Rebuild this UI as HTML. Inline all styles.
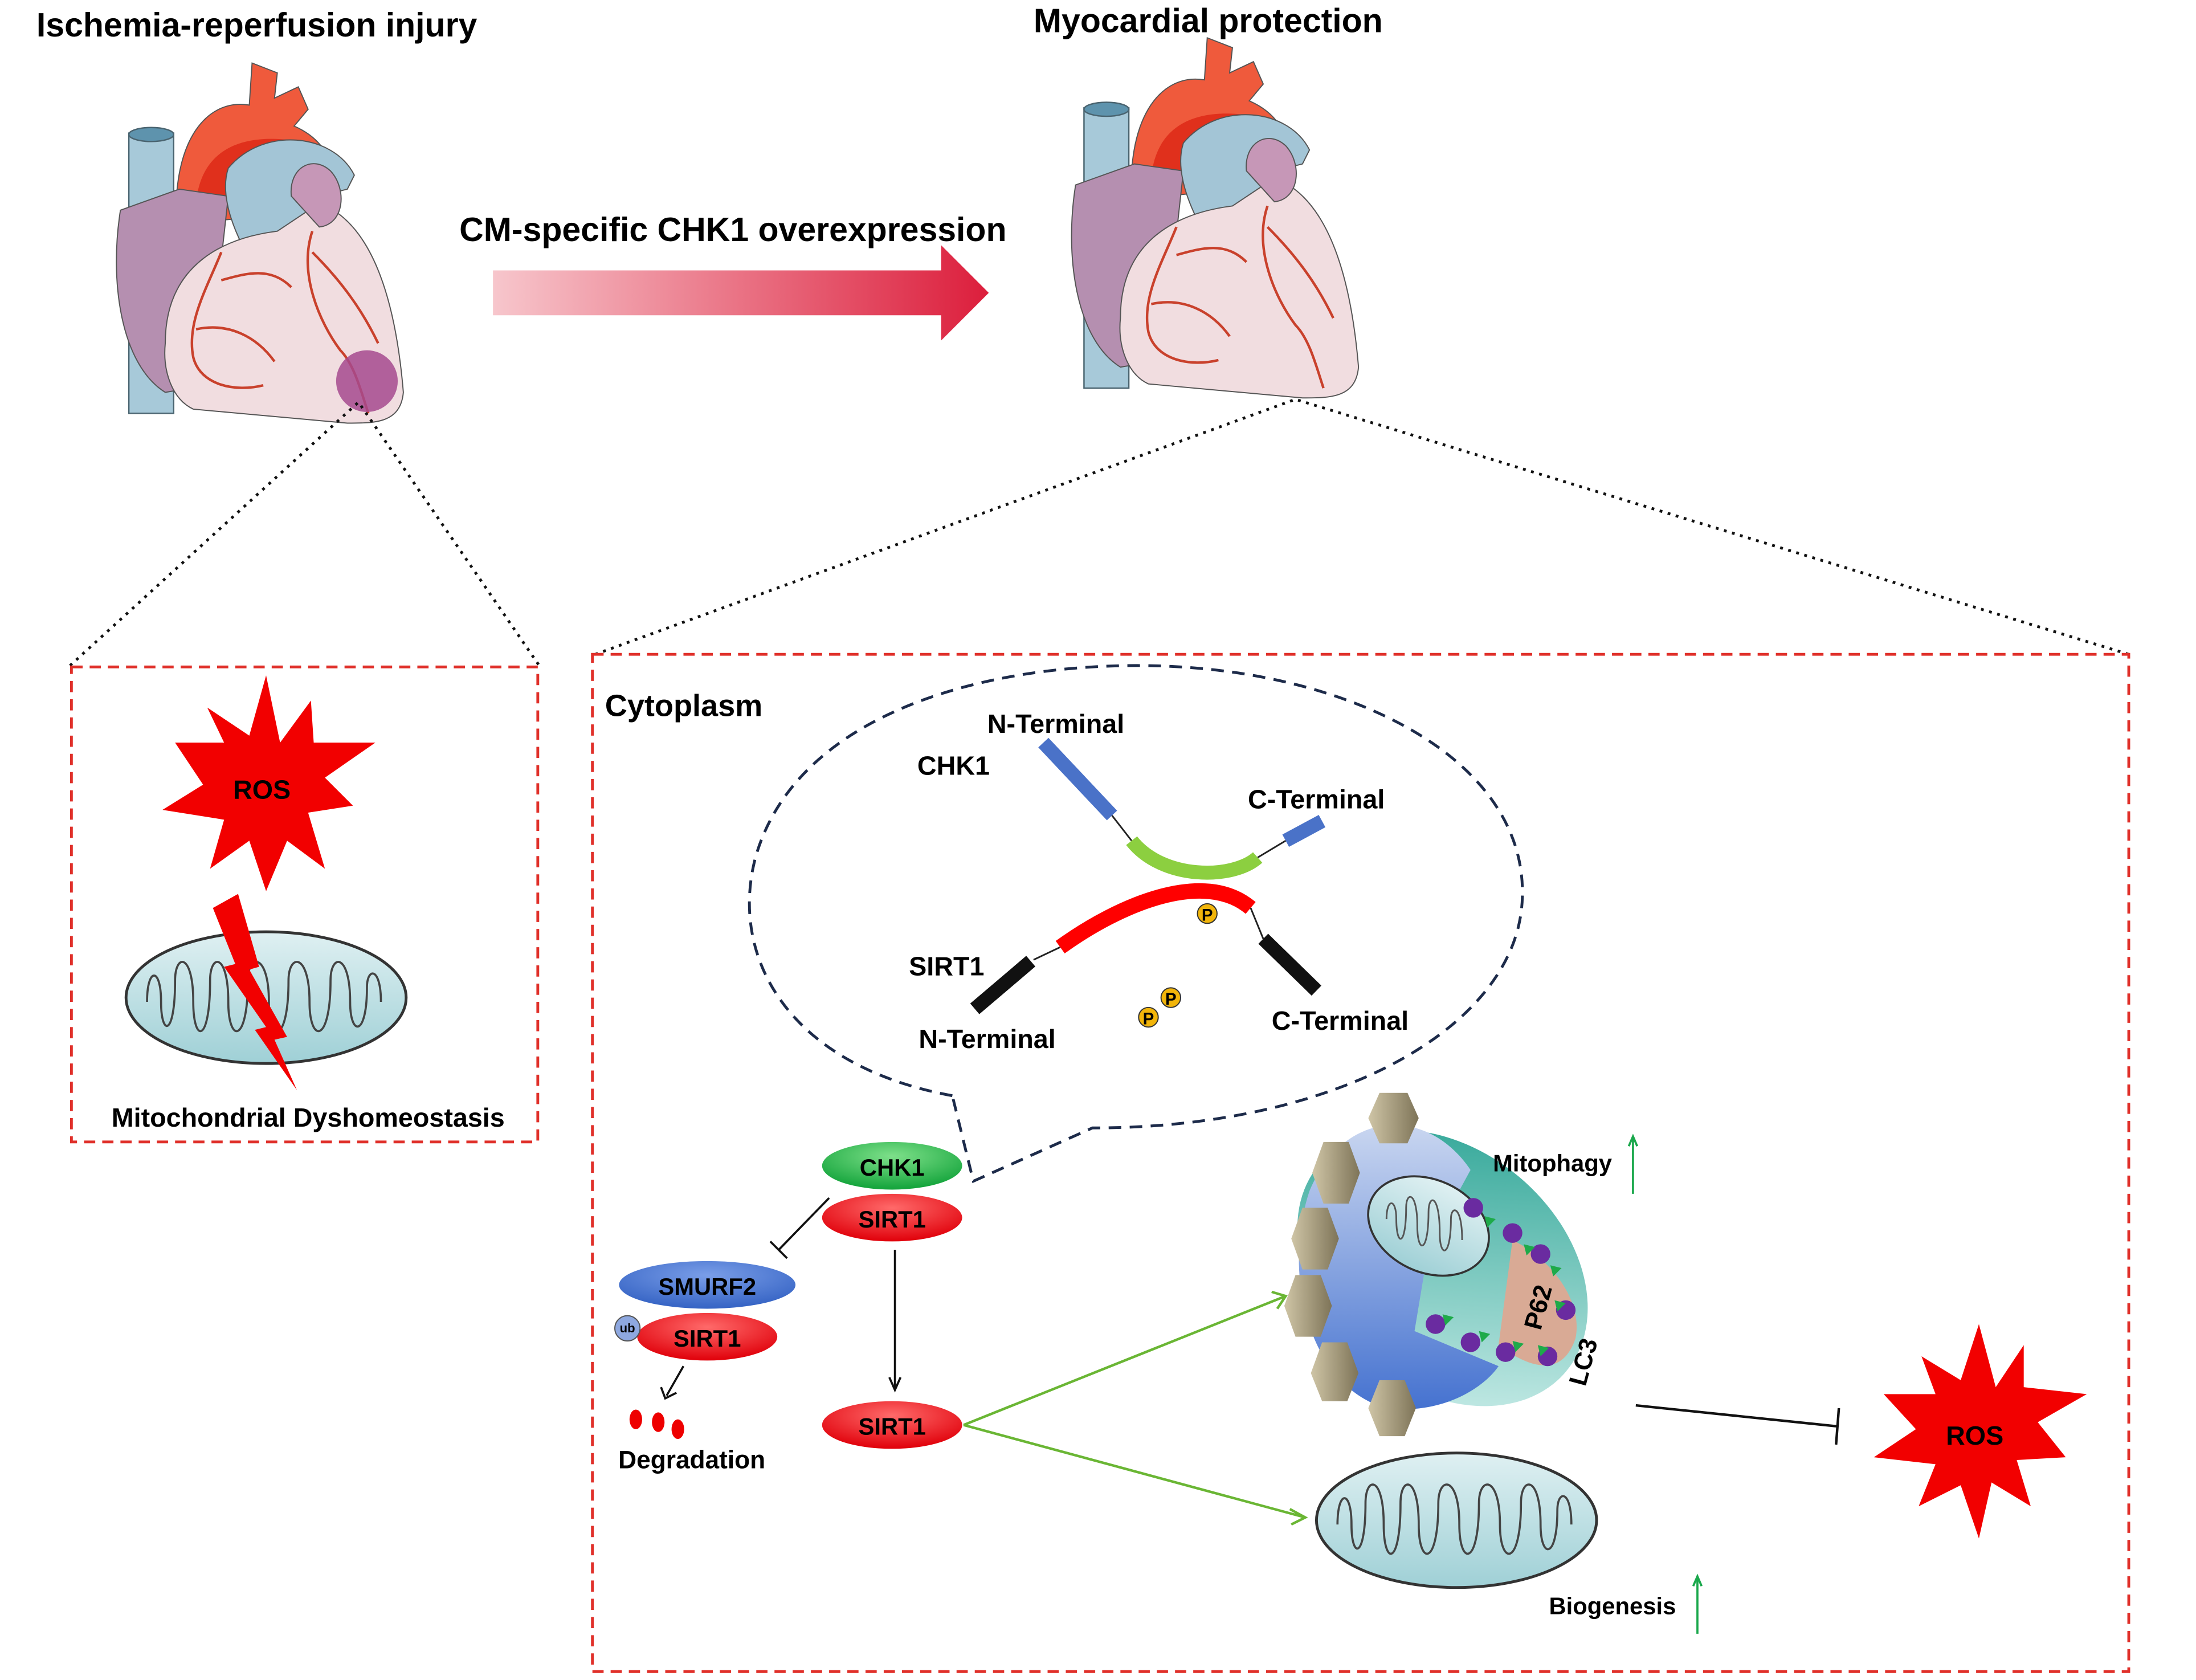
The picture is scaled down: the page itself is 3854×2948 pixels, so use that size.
<!DOCTYPE html>
<html><head><meta charset="utf-8"><style>
html,body{margin:0;padding:0;background:#fff;}
svg{display:block;}
text{font-family:"Liberation Sans",Arial,sans-serif;font-weight:bold;}
</style></head><body>
<svg width="3854" height="2948" viewBox="0 0 1568 1199" preserveAspectRatio="none" xmlns="http://www.w3.org/2000/svg">
<defs>
<linearGradient id="arr" x1="0" x2="1" y1="0" y2="0"><stop offset="0" stop-color="#f7c6cc"/><stop offset="1" stop-color="#dc1e3c"/></linearGradient>
<linearGradient id="mito" x1="0" x2="0" y1="0" y2="1"><stop offset="0" stop-color="#dff0f2"/><stop offset="1" stop-color="#9fd0d6"/></linearGradient>
<linearGradient id="blob" x1="0" x2="0" y1="0" y2="1"><stop offset="0" stop-color="#c9d6f0"/><stop offset="1" stop-color="#4572d0"/></linearGradient>
<linearGradient id="teal" x1="0" x2="1" y1="0" y2="1"><stop offset="0" stop-color="#1f9e8e"/><stop offset="1" stop-color="#d8f3f0"/></linearGradient>
<linearGradient id="hex" x1="0" x2="1"><stop offset="0" stop-color="#cfc5a6"/><stop offset="1" stop-color="#7e7458"/></linearGradient>
<radialGradient id="gr" cx=".5" cy=".3" r=".7"><stop offset="0" stop-color="#7ee08a"/><stop offset="1" stop-color="#12a33a"/></radialGradient>
<radialGradient id="rd" cx=".5" cy=".3" r=".7"><stop offset="0" stop-color="#ff6a6a"/><stop offset="1" stop-color="#e0000a"/></radialGradient>
<radialGradient id="bl" cx=".5" cy=".3" r=".7"><stop offset="0" stop-color="#7a9ee8"/><stop offset="1" stop-color="#3563c4"/></radialGradient>
<g id="heart">
 <rect x="14" y="55" width="32" height="200" fill="#a7c9d9" stroke="#4a6470" stroke-width="1"/>
 <ellipse cx="30" cy="56" rx="16" ry="5" fill="#5e93ad" stroke="#4a6470"/>
 <path d="M48 120 C45 60 70 30 100 35 L102 5 L120 12 L118 30 L135 22 L142 38 L132 50 C155 60 165 80 160 110 Z" fill="#ef5a3c" stroke="#555" stroke-width=".8"/>
 <path d="M62 105 C65 70 90 55 130 60 L140 80 C110 75 90 85 80 110 Z" fill="#e0301c"/>
 <path d="M8 110 C0 160 8 220 40 240 L70 235 L85 100 L50 95 Z" fill="#b58fb0" stroke="#555" stroke-width=".8"/>
 <path d="M85 80 C110 50 160 55 175 85 L170 95 L150 100 L150 130 L95 135 C85 115 80 95 85 80 Z" fill="#a3c5d6" stroke="#555" stroke-width=".8"/>
 <path d="M40 205 C40 150 80 130 120 125 L150 105 C190 120 205 180 210 240 C208 262 190 262 170 262 L60 252 C45 245 38 225 40 205 Z" fill="#f1dde0" stroke="#555" stroke-width=".8"/>
 <path d="M130 100 C128 80 145 70 158 82 C170 95 168 120 150 122 Z" fill="#c697b7" stroke="#555" stroke-width=".8"/>
 <path d="M80 140 C70 165 55 190 60 215 C65 235 90 240 110 235 M145 125 C135 155 150 190 165 210 C175 220 180 240 185 255 M145 140 C165 160 180 180 192 205 M62 195 C85 190 105 200 118 218 M80 160 C98 155 115 150 130 165" fill="none" stroke="#c9412c" stroke-width="1.8"/>
</g>
</defs>
<rect width="1568" height="1199" fill="#fff"/>

<text x="26" y="26" font-size="24">Ischemia-reperfusion injury</text>
<text x="738" y="23" font-size="24">Myocardial protection</text>
<text x="328" y="172" font-size="24">CM-specific CHK1 overexpression</text>

<use href="#heart" x="78" y="40"/>
<ellipse cx="262" cy="272" rx="22" ry="22" fill="#a64a8e" opacity=".85"/>
<use href="#heart" x="760" y="22"/>

<path d="M352 193 L672 193 L672 175 L706 209 L672 243 L672 225 L352 225 Z" fill="url(#arr)"/>

<g stroke="#111" stroke-width="2" stroke-dasharray="2,4" fill="none">
<path d="M50 475 L256 287 L385 475"/>
<path d="M425 467 L925 285 L1520 467"/>
</g>

<rect x="51" y="476" width="333" height="339" fill="none" stroke="#e0302a" stroke-width="2" stroke-dasharray="8,5"/>
<polygon points="190,482 200,530 222,500 224,530 268,530 232,555 252,575 220,580 232,620 205,600 190,636 178,600 150,620 160,585 116,578 145,560 125,530 160,530 148,505 178,525" fill="#f20000"/>
<text x="187" y="570" font-size="19" text-anchor="middle">ROS</text>
<ellipse cx="190" cy="712" rx="100" ry="47" fill="url(#mito)" stroke="#333" stroke-width="2"/>
<path d="M105 715 C105 690 115 690 115 715 C115 740 125 740 125 700 C125 680 138 680 138 715 C138 745 150 745 150 700 C150 680 163 680 163 715 C163 745 177 745 177 700 C177 680 192 680 192 715 C192 745 206 745 206 700 C206 680 221 680 221 715 C221 745 236 745 236 700 C236 680 250 680 250 715 C250 740 262 740 262 705 C262 690 272 690 272 715" fill="none" stroke="#444" stroke-width="1.5"/>
<polygon points="170,638 185,690 178,692 205,740 196,742 212,778 182,735 190,733 160,690 168,688 152,648" fill="#f20000"/>
<text x="220" y="804" font-size="19" text-anchor="middle">Mitochondrial Dyshomeostasis</text>

<rect x="423" y="467" width="1097" height="726" fill="none" stroke="#e0302a" stroke-width="2" stroke-dasharray="8,5"/>
<text x="432" y="511" font-size="22">Cytoplasm</text>

<path d="M680 782 C560 760 520 680 540 610 C570 510 700 475 812 475 C960 475 1090 540 1087 640 C1085 730 960 805 780 805 L695 843 L680 782" fill="none" stroke="#1d2b4a" stroke-width="2" stroke-dasharray="9,6"/>
<text x="705" y="523" font-size="19">N-Terminal</text>
<text x="655" y="553" font-size="19">CHK1</text>
<text x="891" y="577" font-size="19">C-Terminal</text>
<text x="649" y="696" font-size="19">SIRT1</text>
<text x="656" y="748" font-size="19">N-Terminal</text>
<text x="908" y="735" font-size="19">C-Terminal</text>
<line x1="745" y1="530" x2="794" y2="582" stroke="#4a72c8" stroke-width="10"/>
<path d="M794 582 L808 600 M898 612 L918 600" stroke="#222" stroke-width="1.2"/>
<line x1="918" y1="600" x2="944" y2="586" stroke="#4a72c8" stroke-width="10"/>
<path d="M808 600 C830 628 880 628 898 612" fill="none" stroke="#8ccf40" stroke-width="10"/>
<path d="M757 676 C800 645 860 620 893 648" fill="none" stroke="#f00" stroke-width="11"/>
<path d="M738 685 L757 676 M893 648 L902 670" stroke="#222" stroke-width="1.2"/>
<line x1="696" y1="720" x2="736" y2="686" stroke="#111" stroke-width="10"/>
<line x1="902" y1="670" x2="940" y2="707" stroke="#111" stroke-width="10"/>
<g font-size="12"><circle cx="862" cy="652" r="7" fill="#f2b50a" stroke="#333" stroke-width=".8"/><text x="858" y="657">P</text>
<circle cx="820" cy="726" r="7" fill="#f2b50a" stroke="#333" stroke-width=".8"/><text x="816" y="731">P</text>
<circle cx="836" cy="712" r="7" fill="#f2b50a" stroke="#333" stroke-width=".8"/><text x="832" y="717">P</text></g>

<ellipse cx="637" cy="832" rx="50" ry="17" fill="url(#gr)"/>
<text x="637" y="839" font-size="17" text-anchor="middle">CHK1</text>
<ellipse cx="637" cy="869" rx="50" ry="17" fill="url(#rd)"/>
<text x="637" y="876" font-size="17" text-anchor="middle">SIRT1</text>
<ellipse cx="505" cy="917" rx="63" ry="17" fill="url(#bl)"/>
<text x="505" y="924" font-size="17" text-anchor="middle">SMURF2</text>
<ellipse cx="505" cy="954" rx="50" ry="17" fill="url(#rd)"/>
<text x="505" y="961" font-size="17" text-anchor="middle">SIRT1</text>
<circle cx="448" cy="948" r="9" fill="#8ea8e0" stroke="#555" stroke-width=".8"/>
<text x="448" y="951" font-size="9" text-anchor="middle" font-family="Liberation Serif">ub</text>
<path d="M592 855 L556 892 M550 886 L562 898" stroke="#111" stroke-width="1.5"/>
<path d="M488 975 L476 996" stroke="#111" stroke-width="1.5"/><path d="M472 990 L475 998 L483 994" fill="none" stroke="#111" stroke-width="1.5"/>
<ellipse cx="454" cy="1013" rx="4.5" ry="7" fill="#e00"/><ellipse cx="470" cy="1015" rx="4.5" ry="7" fill="#e00"/><ellipse cx="484" cy="1020" rx="4.5" ry="7" fill="#e00"/>
<text x="494" y="1048" font-size="18" text-anchor="middle">Degradation</text>
<line x1="639" y1="892" x2="639" y2="990" stroke="#111" stroke-width="1.5"/>
<path d="M635 983 L639 992 L643 983" fill="none" stroke="#111" stroke-width="1.5"/>
<ellipse cx="637" cy="1017" rx="50" ry="17" fill="url(#rd)"/>
<text x="637" y="1024" font-size="17" text-anchor="middle">SIRT1</text>
<g stroke="#6ab634" stroke-width="1.8" fill="none">
<path d="M688 1017 L918 925 M908 922 L918 925 L912 934"/>
<path d="M688 1017 L932 1083 M921 1077 L932 1083 L922 1088"/>
</g>

<ellipse cx="1030" cy="905" rx="115" ry="85" fill="url(#teal)" transform="rotate(40 1030 905)"/>
<path d="M1050 835 C1020 790 960 790 935 850 C915 910 935 990 990 1005 C1030 1010 1060 990 1070 975 L1010 950 L1020 890 Z" fill="url(#blob)"/>
<path d="M1080 885 C1110 900 1130 930 1125 955 C1115 985 1090 975 1070 960 Z" fill="#d9aa95"/>
<ellipse cx="1020" cy="875" rx="45" ry="33" fill="url(#mito)" stroke="#333" stroke-width="1.5" transform="rotate(25 1020 875)"/>
<path d="M990 870 C990 855 997 855 997 870 C997 890 1004 890 1004 862 C1004 850 1012 850 1012 875 C1012 895 1020 895 1020 865 C1020 852 1028 852 1028 880 C1028 898 1036 898 1036 870 C1036 860 1044 860 1044 885" fill="none" stroke="#555" stroke-width="1.2"/>
<g fill="#6a2ba0"><circle cx="1052" cy="862" r="7"/><circle cx="1080" cy="880" r="7"/><circle cx="1100" cy="895" r="7"/><circle cx="1118" cy="935" r="7"/><circle cx="1025" cy="945" r="7"/><circle cx="1050" cy="958" r="7"/><circle cx="1075" cy="965" r="7"/><circle cx="1105" cy="968" r="7"/></g>
<g fill="#1eaa4a"><path d="M1060 868 l8 2 -6 6z"/><path d="M1088 888 l8 2 -6 6z"/><path d="M1107 903 l8 2 -6 6z"/><path d="M1110 928 l8 2 -6 6z"/><path d="M1030 938 l8 2 -6 6z"/><path d="M1056 950 l8 2 -6 6z"/><path d="M1080 957 l8 2 -6 6z"/><path d="M1098 960 l8 2 -6 6z"/></g>
<g fill="url(#hex)">
<polygon points="985,780 1005,780 1013,798 1005,816 985,816 977,798"/>
<polygon points="945,815 963,815 971,837 963,859 945,859 937,837"/>
<polygon points="930,862 948,862 956,884 948,906 930,906 922,884"/>
<polygon points="925,910 943,910 951,932 943,954 925,954 917,932"/>
<polygon points="944,958 962,958 970,980 962,1000 944,1000 936,980"/>
<polygon points="985,985 1003,985 1011,1005 1003,1025 985,1025 977,1005"/>
</g>
<text transform="translate(1100 950) rotate(-75)" font-size="18">P62</text>
<text transform="translate(1132 990) rotate(-75)" font-size="18" font-weight="normal">LC3</text>
<text x="1066" y="836" font-size="17">Mitophagy</text>
<path d="M1166 852 L1166 812 M1163 818 L1166 811 L1169 818" stroke="#1aa84c" stroke-width="1.5" fill="none"/>

<ellipse cx="1040" cy="1085" rx="100" ry="48" fill="url(#mito)" stroke="#333" stroke-width="2"/>
<path d="M955 1088 C955 1063 965 1063 965 1088 C965 1113 975 1113 975 1073 C975 1053 988 1053 988 1088 C988 1118 1000 1118 1000 1073 C1000 1053 1013 1053 1013 1088 C1013 1118 1027 1118 1027 1073 C1027 1053 1042 1053 1042 1088 C1042 1118 1056 1118 1056 1073 C1056 1053 1071 1053 1071 1088 C1071 1118 1086 1118 1086 1073 C1086 1053 1100 1053 1100 1088 C1100 1113 1112 1113 1112 1078 C1112 1063 1122 1063 1122 1088" fill="none" stroke="#444" stroke-width="1.5"/>
<text x="1106" y="1152" font-size="17">Biogenesis</text>
<path d="M1212 1166 L1212 1126 M1209 1132 L1212 1125 L1215 1132" stroke="#1aa84c" stroke-width="1.5" fill="none"/>

<path d="M1168 1003 L1312 1018 M1313 1005 L1311 1031" stroke="#111" stroke-width="1.8"/>
<polygon points="1413,945 1425,990 1445,960 1445,990 1490,995 1455,1015 1475,1040 1440,1042 1450,1075 1422,1058 1413,1098 1400,1060 1370,1075 1382,1045 1338,1040 1368,1020 1345,995 1382,995 1372,968 1400,985" fill="#f20000"/>
<text x="1410" y="1031" font-size="19" text-anchor="middle">ROS</text>
</svg>
</body></html>
